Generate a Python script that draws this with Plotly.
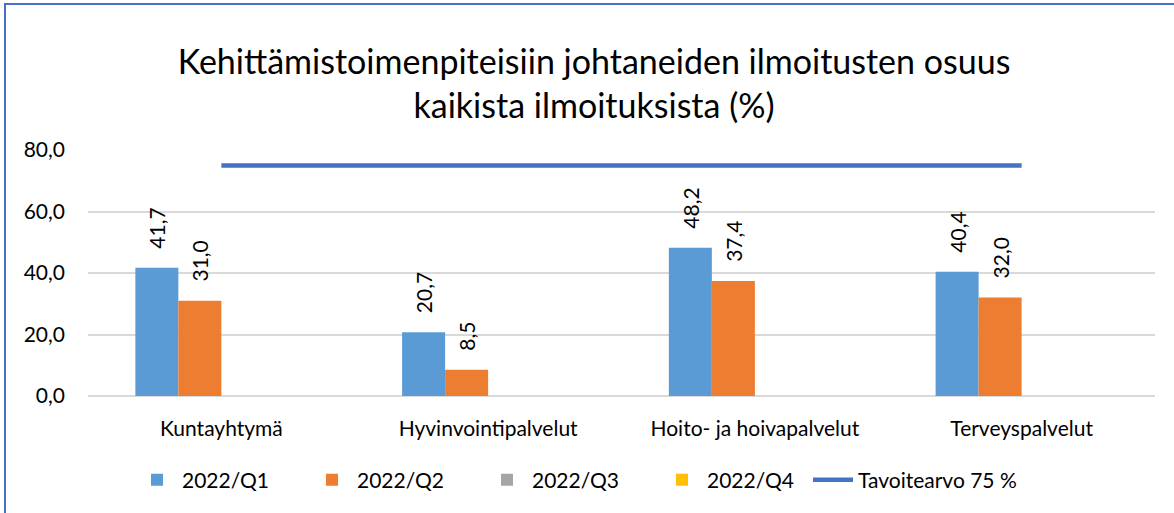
import plotly.graph_objects as go

categories = ["Kuntayhtymä", "Hyvinvointipalvelut", "Hoito- ja hoivapalvelut", "Terveyspalvelut"]
q1 = [41.7, 20.7, 48.2, 40.4]
q2 = [31.0, 8.5, 37.4, 32.0]
q3 = [None, None, None, None]
q4 = [None, None, None, None]
target = [75, 75, 75, 75]
series_names = ["2022/Q1", "2022/Q2", "2022/Q3", "2022/Q4"]
series_colors = ["#5B9BD5", "#ED7D31", "#A5A5A5", "#FFC000"]
target_name = "Tavoitearvo 75 %"
title_text = "Kehittämistoimenpiteisiin johtaneiden ilmoitusten osuus<br>kaikista ilmoituksista (%)"

FONT = "Lato"
FS = 21
W, H = 1174, 513
L, R, T, B = 88, 19, 150, 117

fig = go.Figure()
for name, vals, col in zip(series_names, [q1, q2, q3, q4], series_colors):
    fig.add_trace(go.Bar(
        x=categories, y=vals, name=name, marker=dict(color=col, line=dict(width=0)),
        texttemplate="\u00a0\u00a0\u00a0%{y:.1f}", textposition="outside", textangle=-90,
        constraintext="none",
        textfont=dict(family=FONT, size=FS, color="#000000"), cliponaxis=False,
        legend="legend",
    ))
fig.add_trace(go.Scatter(
    x=categories, y=target, name=target_name, mode="lines",
    line=dict(color="#4472C4", width=4.5), legend="legend2",
))

pw = W - L - R
ph = H - T - B
def px_x(p):
    return (p - L) / pw
def px_y(p):
    return (H - B - p) / ph

legend_font = dict(family=FONT, size=FS, color="#000000")
fig.update_layout(
    width=W, height=H,
    margin=dict(l=L, r=R, t=T, b=B),
    paper_bgcolor="white", plot_bgcolor="white",
    separators=", ",
    barmode="group", bargap=0.355, bargroupgap=0,
    title=dict(text=title_text, x=0.506, xanchor="center", y=1 - 74 / H, yanchor="middle",
               font=dict(family=FONT, size=34, color="#000000")),
    font=dict(family=FONT, size=FS, color="#000000"),
    xaxis=dict(showgrid=False, showline=False, ticks="", ticklabelstandoff=18,
               tickfont=dict(family=FONT, size=FS, color="#000000")),
    yaxis=dict(range=[0, 80], dtick=20, tickformat=".1f", showgrid=True, gridcolor="#D9D9D9",
               gridwidth=1.5, zeroline=True, zerolinecolor="#D9D9D9", zerolinewidth=1.5,
               showline=False, ticks="", ticklabelstandoff=22,
               tickfont=dict(family=FONT, size=FS, color="#000000")),
    legend=dict(orientation="h", x=px_x(132), xanchor="left", y=px_y(480), yanchor="middle",
                font=legend_font, itemwidth=40, entrywidth=120, entrywidthmode="pixels",
                traceorder="normal", tracegroupgap=0),
    legend2=dict(orientation="h", x=px_x(808), xanchor="left", y=px_y(480), yanchor="middle",
                 font=legend_font, itemwidth=40),
    shapes=[
        dict(type="line", xref="paper", yref="paper", x0=px_x(5), x1=px_x(5), y0=px_y(3), y1=px_y(H + 5),
             line=dict(color="#4472C4", width=2)),
        dict(type="line", xref="paper", yref="paper", x0=px_x(4), x1=px_x(W + 5), y0=px_y(4), y1=px_y(4),
             line=dict(color="#4472C4", width=2)),
    ],
)

fig.write_html("out.html", config={"displayModeBar": False},
               post_script="document.body.style.margin='0';document.body.style.overflow='hidden';")
